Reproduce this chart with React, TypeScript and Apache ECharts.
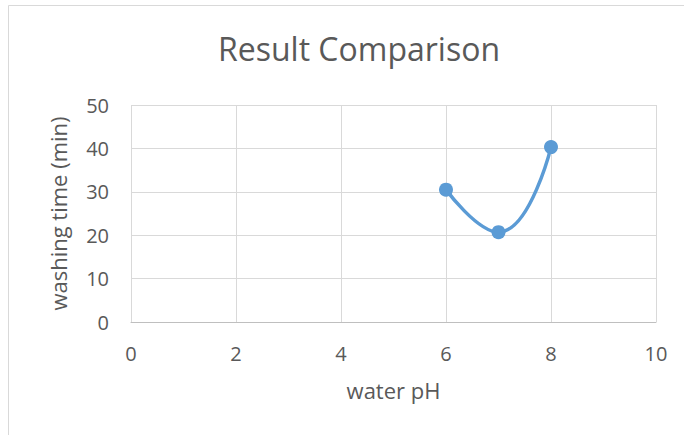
import React, { useEffect, useRef } from "react";
import * as echarts from "echarts";

const titleText = "Result Comparison";
const xName = "water pH";
const yName = "washing time (min)";
const phValues = [6, 7, 8];
const washingTimes = [30.5, 20.7, 40.3];

export default function App() {
  const ref = useRef<HTMLDivElement>(null);
  useEffect(() => {
    if (!ref.current) return;
    const chart = echarts.init(ref.current, null, { renderer: "svg" });
    const font = "'Open Sans', sans-serif";
    chart.setOption({
      animation: false,
      backgroundColor: "#ffffff",
      title: {
        text: titleText,
        left: 354,
        textAlign: "center",
        top: 27,
        textStyle: { fontFamily: font, fontSize: 32, fontWeight: "normal", color: "#595959" },
      },
      graphic: [
        {
          type: "rect",
          shape: { x: 8.5, y: 5.5, width: 720, height: 500 },
          style: { fill: "none", stroke: "#d9d9d9", lineWidth: 1 },
          silent: true,
        },
      ],
      grid: { left: 131, right: 28, top: 105, bottom: 113 },
      xAxis: {
        type: "value",
        min: 0,
        max: 10,
        interval: 2,
        name: xName,
        nameLocation: "middle",
        nameGap: 57,
        nameMoveOverlap: false,
        nameTextStyle: { fontFamily: font, fontSize: 22, color: "#595959", verticalAlign: "top" },
        axisLine: { show: true, lineStyle: { color: "#bfbfbf", width: 1 } },
        axisTick: { show: false },
        axisLabel: { fontFamily: font, fontSize: 20, color: "#595959", margin: 21 },
        splitLine: { show: true, lineStyle: { color: "#d9d9d9", width: 1 } },
      },
      yAxis: {
        type: "value",
        min: 0,
        max: 50,
        interval: 10,
        name: yName,
        nameLocation: "middle",
        nameGap: 62,
        nameMoveOverlap: false,
        nameTextStyle: { fontFamily: font, fontSize: 22, color: "#595959" },
        axisLine: { show: false },
        axisTick: { show: false },
        axisLabel: { fontFamily: font, fontSize: 20, color: "#595959", margin: 22 },
        splitLine: { show: true, lineStyle: { color: "#d9d9d9", width: 1 } },
      },
      series: [
        {
          type: "line",
          data: phValues.map((x, i) => [x, washingTimes[i]]),
          smooth: 0.5,
          symbol: "circle",
          symbolSize: 14,
          itemStyle: { color: "#5b9bd5" },
          lineStyle: { color: "#5b9bd5", width: 3.5 },
        },
      ],
    });
    return () => chart.dispose();
  }, []);
  return (
    <div
      ref={ref}
      style={{ position: "absolute", left: 0, top: 0, width: 684, height: 435 }}
    />
  );
}
